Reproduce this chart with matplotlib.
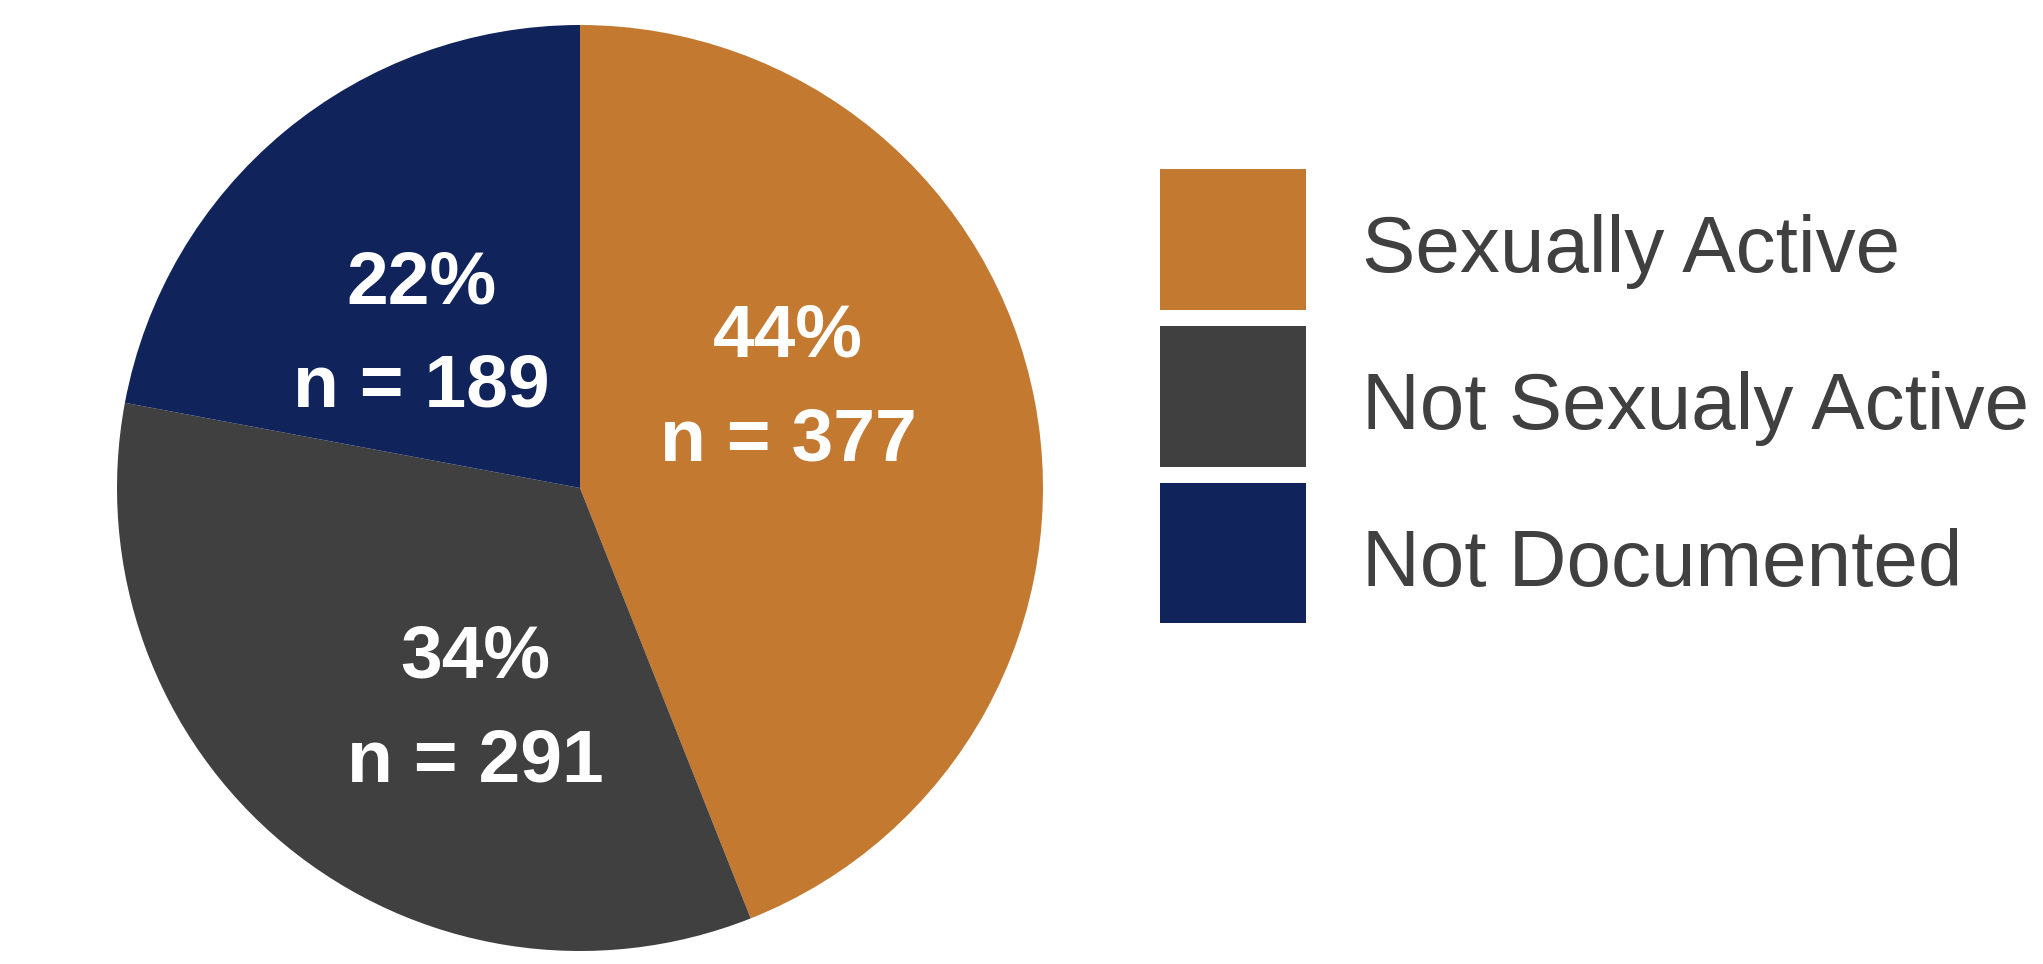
import matplotlib
matplotlib.use("Agg")
import matplotlib.pyplot as plt
import numpy as np

categories = ["Sexually Active", "Not Sexualy Active", "Not Documented"]
counts = [377, 291, 189]
percents = [44, 34, 22]
colors = ["#C47930", "#404040", "#10235A"]

# label placement (radius fraction, angle in degrees) per wedge
label_pos = [(0.501, 26.3), (0.523, -115.7), (0.480, 135.4)]

W, H = 2043, 964
fig = plt.figure(figsize=(W / 100, H / 100), dpi=100)
fig.patch.set_facecolor("white")

cx, cy, r = 580, 476, 463
ax = fig.add_axes([(cx - r) / W, (cy - r) / H, 2 * r / W, 2 * r / H])
wedges, _ = ax.pie(counts, colors=colors, startangle=90, counterclock=False,
                   radius=1.0, wedgeprops=dict(linewidth=0))
ax.set_xlim(-1, 1)
ax.set_ylim(-1, 1)
ax.set_aspect("equal")
ax.axis("off")

for (rr, ang), p, n in zip(label_pos, percents, counts):
    a = np.deg2rad(ang)
    ax.text(rr * np.cos(a), rr * np.sin(a) - 0.008, f"{p}%\nn = {n}",
            ha="center", va="center", color="white",
            fontsize=54, fontweight="bold", family="Liberation Sans",
            linespacing=1.64)

leg = fig.legend(wedges, categories, loc="upper left",
                 bbox_to_anchor=(1160 / W, 1 - 169 / H),
                 frameon=False, prop=dict(family="Liberation Sans", size=57.6),
                 handlelength=1.83, handleheight=2.33, handletextpad=0.7,
                 labelspacing=0.2, borderpad=0, borderaxespad=0)
for t in leg.get_texts():
    t.set_color("#404040")
    t.set_y(-8)

fig.savefig("out.png", dpi=100, facecolor="white")
